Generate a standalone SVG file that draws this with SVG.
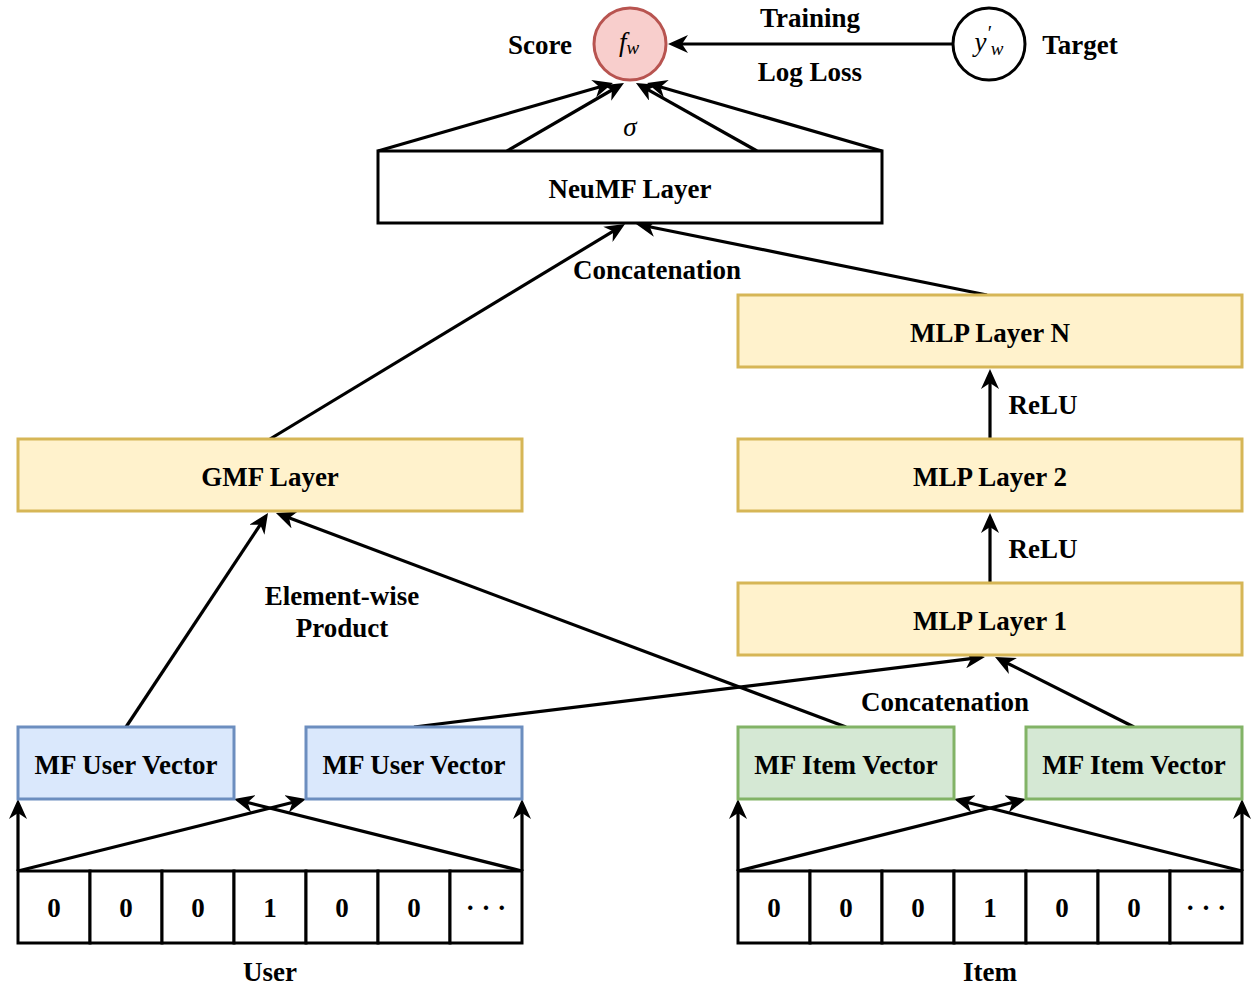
<svg xmlns="http://www.w3.org/2000/svg" width="1253" height="990" viewBox="0 0 1253 990">
  <style>
    text { font-family: "Liberation Serif", "Times New Roman", serif; font-weight: bold; font-size: 27px; fill: #000; text-anchor: middle; dominant-baseline: central; }
    .math { font-weight: normal; font-style: italic; }
    .plain { fill: #ffffff; stroke: #000000; stroke-width: 3; }
    .yellow { fill: #fff2cc; stroke: #d6b656; stroke-width: 3; }
    .blue { fill: #dae8fc; stroke: #6c8ebf; stroke-width: 3; }
    .green { fill: #d5e8d4; stroke: #82b366; stroke-width: 3; }
    .edge { fill: none; stroke: #000000; stroke-width: 3.2; }
    .arrow { marker-end: url(#head); }
  </style>
  <defs>
    <!-- classic notched arrowhead; lines stop 6px short of the tip -->
    <marker id="head" markerUnits="userSpaceOnUse" markerWidth="20" markerHeight="18" refX="14" refY="9" orient="auto">
      <path d="M0,0 L20,9 L0,18 L6,9 Z" fill="#000"/>
    </marker>
  </defs>
  <rect width="1253" height="990" fill="#ffffff"/>

  <!-- connectors -->
  <g id="connectors">
    <!-- target to score -->
    <line class="edge arrow" x1="953" y1="44" x2="674" y2="44"/>
    <!-- NeuMF layer to score (sigma) -->
    <line class="edge arrow" x1="378" y1="151" x2="607.2" y2="84.7"/>
    <line class="edge arrow" x1="507" y1="151" x2="618.8" y2="86"/>
    <line class="edge arrow" x1="757" y1="151" x2="641.2" y2="85.9"/>
    <line class="edge arrow" x1="882" y1="151" x2="652.8" y2="84.7"/>
    <!-- concatenation into NeuMF -->
    <line class="edge arrow" x1="270" y1="439" x2="619.9" y2="227.1"/>
    <line class="edge arrow" x1="987" y1="295" x2="641.9" y2="225.2"/>
    <!-- MLP tower -->
    <line class="edge arrow" x1="990" y1="439" x2="990" y2="375"/>
    <line class="edge arrow" x1="990" y1="583" x2="990" y2="519"/>
    <!-- element-wise product into GMF -->
    <line class="edge arrow" x1="126" y1="727" x2="264.7" y2="518"/>
    <line class="edge arrow" x1="846" y1="727" x2="281.6" y2="515.1"/>
    <!-- concatenation into MLP layer 1 -->
    <line class="edge arrow" x1="414" y1="727" x2="979" y2="657.7"/>
    <line class="edge arrow" x1="1134" y1="727" x2="1000.4" y2="659.7"/>
    <!-- user one-hot to embeddings -->
    <line class="edge arrow" x1="18" y1="871" x2="18" y2="805"/>
    <line class="edge arrow" x1="18" y1="871" x2="300.2" y2="800.5"/>
    <line class="edge arrow" x1="522" y1="871" x2="522" y2="805"/>
    <line class="edge arrow" x1="522" y1="871" x2="239.8" y2="800.5"/>
    <!-- item one-hot to embeddings -->
    <line class="edge arrow" x1="738" y1="871" x2="738" y2="805"/>
    <line class="edge arrow" x1="738" y1="871" x2="1020.2" y2="800.5"/>
    <line class="edge arrow" x1="1242" y1="871" x2="1242" y2="805"/>
    <line class="edge arrow" x1="1242" y1="871" x2="959.8" y2="800.5"/>
  </g>

  <!-- edge labels -->
  <g id="edge-labels">
    <text x="810" y="18">Training</text>
    <text x="810" y="72">Log Loss</text>
    <text class="math" x="630" y="127" font-size="25">σ</text>
    <text x="657" y="270">Concatenation</text>
    <text x="1043" y="405">ReLU</text>
    <text x="1043" y="549">ReLU</text>
    <text x="342" y="596">Element-wise</text>
    <text x="342" y="628">Product</text>
    <text x="945" y="702">Concatenation</text>
  </g>

  <g id="score">
    <circle cx="630" cy="44" r="36" fill="#f8cecc" stroke="#b85450" stroke-width="3"/>
    <text class="math" x="629" y="42" font-size="28">f<tspan font-size="19" dy="5">w</tspan></text>
    <text x="540" y="45">Score</text>
  </g>

  <g id="target">
    <circle cx="989" cy="44" r="36" fill="#ffffff" stroke="#000" stroke-width="3"/>
    <text class="math" x="989" y="42" font-size="28">y<tspan font-size="20" dy="-9">′</tspan><tspan font-size="19" dy="15">w</tspan></text>
    <text x="1080" y="45">Target</text>
  </g>

  <g id="neumf-layer">
    <rect class="plain" x="378" y="151" width="504" height="72"/>
    <text x="630" y="189">NeuMF Layer</text>
  </g>

  <g id="mlp-layer-n">
    <rect class="yellow" x="738" y="295" width="504" height="72"/>
    <text x="990" y="333">MLP Layer N</text>
  </g>
  <g id="mlp-layer-2">
    <rect class="yellow" x="738" y="439" width="504" height="72"/>
    <text x="990" y="477">MLP Layer 2</text>
  </g>
  <g id="mlp-layer-1">
    <rect class="yellow" x="738" y="583" width="504" height="72"/>
    <text x="990" y="621">MLP Layer 1</text>
  </g>
  <g id="gmf-layer">
    <rect class="yellow" x="18" y="439" width="504" height="72"/>
    <text x="270" y="477">GMF Layer</text>
  </g>

  <g id="mf-user-vector-gmf">
    <rect class="blue" x="18" y="727" width="216" height="72"/>
    <text x="126" y="765">MF User Vector</text>
  </g>
  <g id="mf-user-vector-mlp">
    <rect class="blue" x="306" y="727" width="216" height="72"/>
    <text x="414" y="765">MF User Vector</text>
  </g>
  <g id="mf-item-vector-gmf">
    <rect class="green" x="738" y="727" width="216" height="72"/>
    <text x="846" y="765">MF Item Vector</text>
  </g>
  <g id="mf-item-vector-mlp">
    <rect class="green" x="1026" y="727" width="216" height="72"/>
    <text x="1134" y="765">MF Item Vector</text>
  </g>

  <!-- one-hot input rows -->
  <g id="user-input">
    <rect class="plain" x="18" y="871" width="72" height="72"/>
    <rect class="plain" x="90" y="871" width="72" height="72"/>
    <rect class="plain" x="162" y="871" width="72" height="72"/>
    <rect class="plain" x="234" y="871" width="72" height="72"/>
    <rect class="plain" x="306" y="871" width="72" height="72"/>
    <rect class="plain" x="378" y="871" width="72" height="72"/>
    <rect class="plain" x="450" y="871" width="72" height="72"/>
    <text x="54" y="908">0</text>
    <text x="126" y="908">0</text>
    <text x="198" y="908">0</text>
    <text x="270" y="908">1</text>
    <text x="342" y="908">0</text>
    <text x="414" y="908">0</text>
    <text x="486" y="908" font-weight="normal">· · ·</text>
    <text x="270" y="972">User</text>
  </g>
  <g id="item-input">
    <rect class="plain" x="738" y="871" width="72" height="72"/>
    <rect class="plain" x="810" y="871" width="72" height="72"/>
    <rect class="plain" x="882" y="871" width="72" height="72"/>
    <rect class="plain" x="954" y="871" width="72" height="72"/>
    <rect class="plain" x="1026" y="871" width="72" height="72"/>
    <rect class="plain" x="1098" y="871" width="72" height="72"/>
    <rect class="plain" x="1170" y="871" width="72" height="72"/>
    <text x="774" y="908">0</text>
    <text x="846" y="908">0</text>
    <text x="918" y="908">0</text>
    <text x="990" y="908">1</text>
    <text x="1062" y="908">0</text>
    <text x="1134" y="908">0</text>
    <text x="1206" y="908" font-weight="normal">· · ·</text>
    <text x="990" y="972">Item</text>
  </g>
</svg>
